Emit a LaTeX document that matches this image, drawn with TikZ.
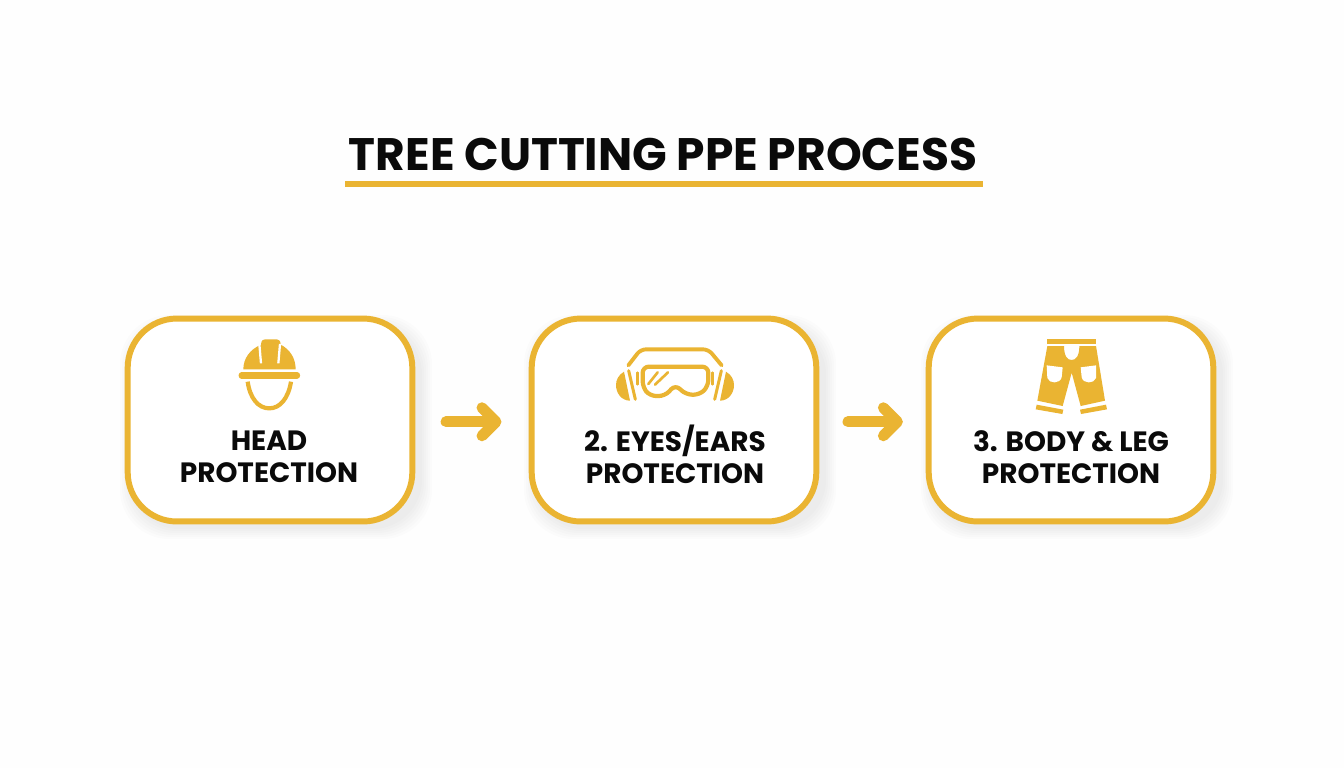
\documentclass[tikz,border=0pt]{standalone}
\usepackage{fontspec}
\setmainfont{Poppins}
\usetikzlibrary{positioning, arrows.meta}

\definecolor{ppeyellow}{HTML}{EAB432}
\definecolor{ppeblack}{HTML}{0A0A0A}
\definecolor{pagewhite}{HTML}{FEFEFE}

\tikzset{
    stagebox/.style={rectangle, draw=ppeyellow, fill=white, line width=3.4pt, rounded corners=28pt,
        minimum width=162pt, minimum height=115.5pt, inner sep=0pt},
    stagelabel/.style={align=center, text=ppeblack, font=\fontsize{15.9}{18.2}\selectfont\bfseries},
    flowarrow/.style={draw=ppeyellow, line width=6.2pt, line cap=round,
        -{Straight Barb[length=8pt, width=16pt, line width=6.2pt, round]}},
    iconline/.style={draw=ppeyellow, line cap=round, line join=round}
}

\begin{document}
\begin{tikzpicture}[x=0.02cm, y=-0.02cm]
    \fill[pagewhite] (0,0) rectangle (1344,768);
    \useasboundingbox (0,0) rectangle (1344,768);

    % soft shadows
    \foreach \cx in {270,674,1071}
        \foreach \grow in {0,2,...,10}
            \fill[black, opacity=0.012, rounded corners=28pt]
                (\cx-146+6-\grow,318+7-\grow) rectangle (\cx+146+6+\grow,522+7+\grow);

    \node[stagebox] (head) at (270,420) {};
    \node[stagebox] (eyes) at (674,420) {};
    \node[stagebox] (body) at (1071,420) {};

    \node[text=ppeblack, font=\fontsize{25.9}{30}\selectfont\bfseries] (title) at (663,154) {TREE CUTTING PPE PROCESS};
    \fill[ppeyellow] (345,181) rectangle (983,187);

    \node[stagelabel] (headtext) at (269,457) {HEAD\\PROTECTION};
    \node[stagelabel] (eyestext) at (675,454) {2. EYES/EARS\\PROTECTION};
    \node[stagelabel] (bodytext) at (1071,457) {3. BODY \& LEG\\PROTECTION};

    \draw[flowarrow, shorten <=17.5pt, shorten >=15.5pt] ([yshift=-1pt]head.east) -- ([yshift=-1pt]eyes.west);
    \draw[flowarrow, shorten <=16.3pt, shorten >=13pt] ([yshift=-1pt]eyes.east) -- ([yshift=-1pt]body.west);

    % helmet
    \begin{scope}[shift={(225,330)}, scale=1/3]
        \fill[ppeyellow] (55,118) .. controls (55,85) and (75,58) .. (108,44)
            .. controls (108,30) and (115,28) .. (125,28) -- (150,28)
            .. controls (160,28) and (167,30) .. (167,44)
            .. controls (195,58) and (212,85) .. (212,118) -- cycle;
        \draw[white, line width=1.3pt] (103,42) -- (108,100);
        \draw[white, line width=1.3pt] (165,42) -- (160,100);
        \draw[iconline, line width=3.6pt] (50,136) -- (216,136);
        \draw[draw=ppeyellow, line width=2.4pt] (68,155) .. controls (75,205) and (100,235) .. (133,235)
            .. controls (165,235) and (190,205) .. (198,155);
    \end{scope}

    % goggles and ear muffs
    \begin{scope}[shift={(600,330)}, scale=1/3]
        \draw[iconline, line width=2.2pt, rounded corners=3pt] (85,106) -- (122,58) -- (325,58) -- (365,106);
        \draw[iconline, line width=2.4pt, rounded corners=3.5pt] (128,110) -- (325,110) -- (325,168) -- (300,194)
            -- (258,194) -- (226,164) -- (195,198) -- (150,198) -- (128,172) -- cycle;
        \draw[iconline, line width=1.5pt] (145,162) -- (173,127);
        \draw[iconline, line width=1.5pt] (165,164) -- (204,127);
        \fill[ppeyellow] (72,125) .. controls (55,135) and (48,150) .. (48,165)
            .. controls (48,190) and (65,212) .. (90,212) -- cycle;
        \fill[ppeyellow] (378,125) .. controls (395,135) and (402,150) .. (402,165)
            .. controls (402,190) and (385,212) .. (360,212) -- cycle;
        \draw[iconline, line width=1.7pt] (86,122) -- (106,208);
        \draw[iconline, line width=1.7pt] (364,122) -- (344,208);
        \draw[iconline, line width=1.5pt] (113,128) -- (113,163);
        \draw[iconline, line width=1.5pt] (337,128) -- (337,163);
    \end{scope}

    % trousers
    \begin{scope}[shift={(1020,330)}, scale=1/3]
        \fill[ppeyellow] (80,27) rectangle (228,42);
        \fill[ppeyellow] (82,48) -- (132,48) .. controls (132,78) and (142,90) .. (155,90)
            .. controls (168,90) and (178,78) .. (178,48) -- (228,48) -- (255,212) -- (182,228)
            -- (155,128) -- (128,228) -- (52,212) -- cycle;
        \fill[white] (80,106) -- (128,112) -- (125,142) .. controls (120,162) and (88,162) .. (82,144) -- cycle;
        \fill[white] (228,106) -- (182,112) -- (185,142) .. controls (190,162) and (222,162) .. (228,144) -- cycle;
        \fill[ppeyellow] (50,224) -- (130,239) -- (127,252) -- (47,238) -- cycle;
        \fill[ppeyellow] (258,224) -- (180,239) -- (183,252) -- (261,238) -- cycle;
    \end{scope}
\end{tikzpicture}
\end{document}
